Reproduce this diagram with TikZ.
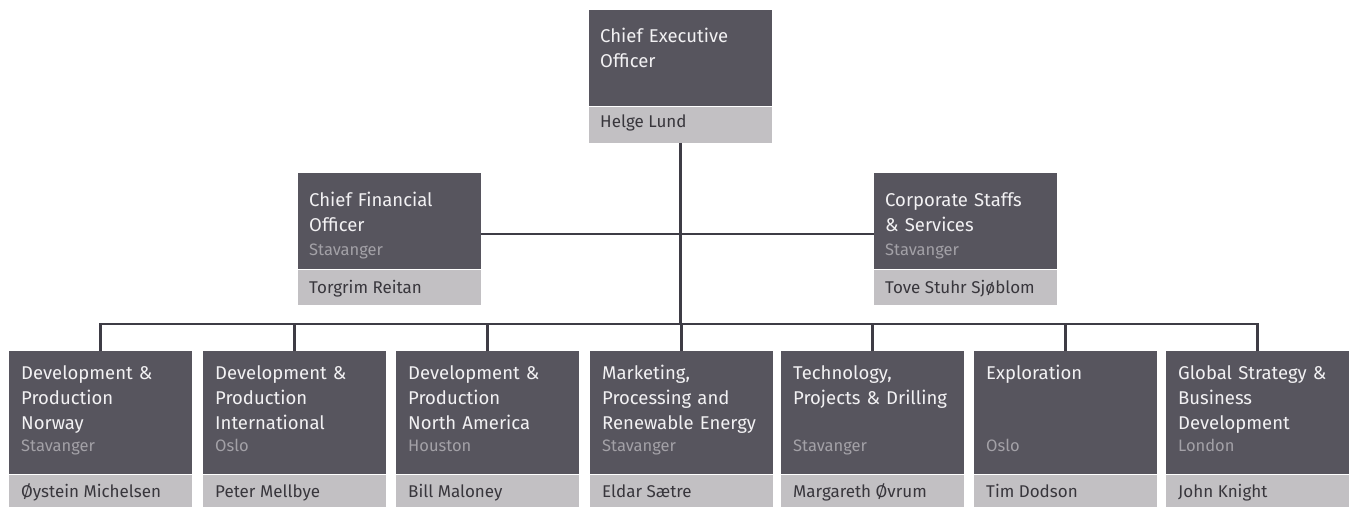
\documentclass[tikz,border=0pt]{standalone}
\usepackage{fontspec}
\setmainfont{Fira Sans}
\definecolor{boxdark}{HTML}{57555E}
\definecolor{boxname}{HTML}{C2C0C3}
\definecolor{linedark}{HTML}{3E3C45}
\definecolor{headtext}{HTML}{F2F1F3}
\definecolor{placegray}{HTML}{A3A1A7}
\definecolor{nametext}{HTML}{38363C}
\begin{document}
\begin{tikzpicture}
  [x=1pt,y=-1pt,
   unit/.style={rectangle,fill=boxdark,inner sep=0,anchor=north west,minimum width=183pt},
   namebar/.style={rectangle,fill=boxname,inner sep=0,anchor=north west,minimum width=183pt},
   head/.style={anchor=base west,inner sep=0,align=left,text width=176pt,text=headtext,font=\fontsize{18.5}{25}\selectfont},
   place/.style={anchor=base west,inner sep=0,text=placegray,font=\fontsize{16.5}{22}\selectfont},
   who/.style={anchor=base west,inner sep=0,text=nametext,font=\fontsize{17}{22}\selectfont},
   link/.style={draw=linedark,line width=2.5pt}]
  \useasboundingbox (0,0) rectangle (1349,506);

  % top
  \node[unit,minimum height=96pt] (ceo) at (589,10) {};
  \node[namebar,minimum height=36pt] (ceo-n) at (ceo.south west) {};
  \node[head] (ceo-t) at ([xshift=11pt,yshift=-32pt]ceo.north west) {Chief Executive\\Officer};
  \node[who] (ceo-w) at ([xshift=11pt,yshift=-21pt]ceo-n.north west) {Helge Lund};

  % second row
  \node[unit,minimum height=96pt] (cfo) at (298,173) {};
  \node[namebar,minimum height=35pt] (cfo-n) at (cfo.south west) {};
  \node[head] (cfo-t) at ([xshift=11pt,yshift=-33pt]cfo.north west) {Chief Financial\\Officer};
  \node[place] (cfo-p) at ([xshift=11pt,yshift=14pt]cfo.south west) {Stavanger};
  \node[who] (cfo-w) at ([xshift=11pt,yshift=-24pt]cfo-n.north west) {Torgrim Reitan};

  \node[unit,minimum height=96pt] (css) at (874,173) {};
  \node[namebar,minimum height=35pt] (css-n) at (css.south west) {};
  \node[head] (css-t) at ([xshift=11pt,yshift=-33pt]css.north west) {Corporate Staffs\\\& Services};
  \node[place] (css-p) at ([xshift=11pt,yshift=14pt]css.south west) {Stavanger};
  \node[who] (css-w) at ([xshift=11pt,yshift=-24pt]css-n.north west) {Tove Stuhr Sjøblom};

  % business areas
  \node[unit,minimum height=123pt] (b1) at (9,351) {};
  \node[namebar,minimum height=32pt] (b1-n) at (b1.south west) {};
  \node[head] (b1-t) at ([xshift=12pt,yshift=-28pt]b1.north west) {Development \&\\Production\\Norway};
  \node[place] (b1-p) at ([xshift=12pt,yshift=23pt]b1.south west) {Stavanger};
  \node[who] (b1-w) at ([xshift=12pt,yshift=-23pt]b1-n.north west) {Øystein Michelsen};

  \node[unit,minimum height=123pt] (b2) at (203,351) {};
  \node[namebar,minimum height=32pt] (b2-n) at (b2.south west) {};
  \node[head] (b2-t) at ([xshift=12pt,yshift=-28pt]b2.north west) {Development \&\\Production\\International};
  \node[place] (b2-p) at ([xshift=12pt,yshift=23pt]b2.south west) {Oslo};
  \node[who] (b2-w) at ([xshift=12pt,yshift=-23pt]b2-n.north west) {Peter Mellbye};

  \node[unit,minimum height=123pt] (b3) at (396,351) {};
  \node[namebar,minimum height=32pt] (b3-n) at (b3.south west) {};
  \node[head] (b3-t) at ([xshift=12pt,yshift=-28pt]b3.north west) {Development \&\\Production\\North America};
  \node[place] (b3-p) at ([xshift=12pt,yshift=23pt]b3.south west) {Houston};
  \node[who] (b3-w) at ([xshift=12pt,yshift=-23pt]b3-n.north west) {Bill Maloney};

  \node[unit,minimum height=123pt] (b4) at (590,351) {};
  \node[namebar,minimum height=32pt] (b4-n) at (b4.south west) {};
  \node[head] (b4-t) at ([xshift=12pt,yshift=-28pt]b4.north west) {Marketing,\\Processing and\\Renewable Energy};
  \node[place] (b4-p) at ([xshift=12pt,yshift=23pt]b4.south west) {Stavanger};
  \node[who] (b4-w) at ([xshift=12pt,yshift=-23pt]b4-n.north west) {Eldar Sætre};

  \node[unit,minimum height=123pt] (b5) at (781,351) {};
  \node[namebar,minimum height=32pt] (b5-n) at (b5.south west) {};
  \node[head] (b5-t) at ([xshift=12pt,yshift=-28pt]b5.north west) {Technology,\\Projects \& Drilling};
  \node[place] (b5-p) at ([xshift=12pt,yshift=23pt]b5.south west) {Stavanger};
  \node[who] (b5-w) at ([xshift=12pt,yshift=-23pt]b5-n.north west) {Margareth Øvrum};

  \node[unit,minimum height=123pt] (b6) at (974,351) {};
  \node[namebar,minimum height=32pt] (b6-n) at (b6.south west) {};
  \node[head] (b6-t) at ([xshift=12pt,yshift=-28pt]b6.north west) {Exploration};
  \node[place] (b6-p) at ([xshift=12pt,yshift=23pt]b6.south west) {Oslo};
  \node[who] (b6-w) at ([xshift=12pt,yshift=-23pt]b6-n.north west) {Tim Dodson};

  \node[unit,minimum height=123pt] (b7) at (1166,351) {};
  \node[namebar,minimum height=32pt] (b7-n) at (b7.south west) {};
  \node[head] (b7-t) at ([xshift=12pt,yshift=-28pt]b7.north west) {Global Strategy \&\\Business\\Development};
  \node[place] (b7-p) at ([xshift=12pt,yshift=23pt]b7.south west) {London};
  \node[who] (b7-w) at ([xshift=12pt,yshift=-23pt]b7-n.north west) {John Knight};

  % lines
  \coordinate (bus) at (680,324);
  \coordinate (mid) at (680,234);
  \draw[link] (ceo-n.south) -- (ceo-n.south |- bus);
  \draw[link] (cfo.east |- mid) -- (css.west |- mid);
  \draw[link] (b1.north) -- (b1.north |- bus) -- (b7.north |- bus) -- (b7.north);
  \draw[link] (b2.north) -- (b2.north |- bus);
  \draw[link] (b3.north) -- (b3.north |- bus);
  \draw[link] (b4.north) -- (b4.north |- bus);
  \draw[link] (b5.north) -- (b5.north |- bus);
  \draw[link] (b6.north) -- (b6.north |- bus);

\end{tikzpicture}
\end{document}
